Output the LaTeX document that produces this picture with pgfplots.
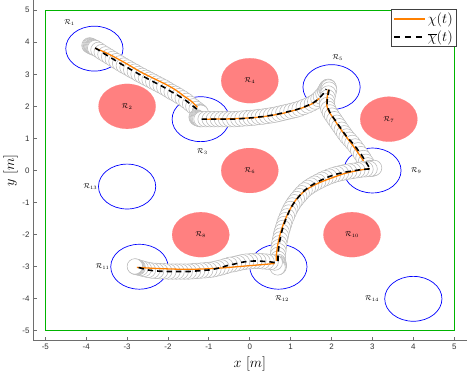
\documentclass[border=0pt]{standalone}
\usepackage[no-math]{fontspec}
\usepackage{pgfplots}
\usepackage{pgfplotstable}
\pgfplotsset{compat=1.18}
\newfontfamily\tickfont{Liberation Sans}
\definecolor{trajorange}{RGB}{255,128,0}
\definecolor{regred}{RGB}{255,128,128}
\definecolor{boundgreen}{RGB}{0,180,0}
\definecolor{axgray}{RGB}{110,110,110}

\pgfplotstableread{
x y
-3.0 2.0
0.0 2.8
0.0 0.0
3.4 1.6
-1.2 -2.0
2.5 -2.0
}\obstacles
\pgfplotstableread{
x y
-3.8 3.8
-1.2 1.6
2.0 2.6
3.0 0.0
-2.7 -3.0
0.7 -3.0
-3.0 -0.5
4.0 -4.0
}\targets

\pgfplotstableread{
x y
-3.78 3.82
-3.70 3.76
-3.62 3.69
-3.53 3.62
-3.44 3.55
-3.35 3.48
-3.26 3.41
-3.17 3.34
-3.08 3.27
-2.99 3.21
-2.90 3.14
-2.81 3.08
-2.72 3.01
-2.63 2.95
-2.54 2.89
-2.45 2.83
-2.36 2.77
-2.27 2.71
-2.18 2.65
-2.09 2.59
-2.00 2.52
-1.91 2.45
-1.82 2.39
-1.73 2.32
-1.64 2.25
-1.55 2.17
-1.46 2.08
-1.38 2.00
-1.30 1.92
-1.22 1.84
}\refA
\pgfplotstableread{
x y
-1.18 1.60
-1.08 1.60
-0.98 1.60
-0.88 1.60
-0.78 1.60
-0.68 1.60
-0.58 1.60
-0.48 1.60
-0.38 1.60
-0.28 1.61
-0.18 1.62
-0.08 1.63
0.02 1.64
0.12 1.65
0.22 1.67
0.32 1.68
0.42 1.70
0.52 1.72
0.62 1.74
0.72 1.77
0.82 1.80
0.92 1.83
1.02 1.86
1.12 1.89
1.22 1.93
1.32 1.98
1.42 2.03
1.52 2.09
1.60 2.15
1.68 2.23
1.74 2.31
1.80 2.40
1.84 2.48
1.87 2.54
}\refB
\pgfplotstableread{
x y
1.94 2.52
1.92 2.40
1.90 2.28
1.89 2.16
1.89 2.04
1.92 1.92
1.96 1.81
2.01 1.71
2.07 1.60
2.13 1.49
2.19 1.38
2.25 1.27
2.31 1.16
2.37 1.06
2.44 0.96
2.51 0.86
2.58 0.75
2.65 0.63
2.72 0.51
2.78 0.39
2.84 0.27
2.89 0.16
2.93 0.08
}\refC
\pgfplotstableread{
x y
2.93 0.05
2.83 0.04
2.73 0.03
2.63 0.01
2.53 -0.01
2.43 -0.03
2.33 -0.05
2.23 -0.08
2.13 -0.11
2.03 -0.15
1.94 -0.19
1.85 -0.24
1.76 -0.29
1.67 -0.35
1.58 -0.41
1.50 -0.47
1.42 -0.54
1.34 -0.62
1.27 -0.71
1.21 -0.80
1.15 -0.89
1.09 -0.99
1.04 -1.09
0.99 -1.20
0.95 -1.31
0.91 -1.43
0.87 -1.55
0.84 -1.67
0.81 -1.79
0.78 -1.91
0.76 -2.03
0.74 -2.15
0.72 -2.27
0.71 -2.39
0.70 -2.51
0.69 -2.63
0.69 -2.75
0.69 -2.85
}\refD
\pgfplotstableread{
x y
0.61 -2.87
0.51 -2.85
0.41 -2.84
0.31 -2.83
0.21 -2.82
0.11 -2.82
0.01 -2.83
-0.09 -2.84
-0.19 -2.86
-0.29 -2.89
-0.39 -2.92
-0.49 -2.94
-0.59 -2.98
-0.69 -3.02
-0.79 -3.05
-0.89 -3.08
-0.99 -3.10
-1.09 -3.11
-1.19 -3.12
-1.29 -3.13
-1.39 -3.14
-1.49 -3.15
-1.59 -3.15
-1.69 -3.15
-1.79 -3.15
-1.89 -3.15
-1.99 -3.15
-2.09 -3.14
-2.19 -3.14
-2.29 -3.13
-2.39 -3.12
-2.49 -3.10
-2.59 -3.07
-2.67 -3.04
-2.74 -3.02
}\refE

\begin{document}
\begin{tikzpicture}
\begin{axis}[
  scale only axis,
  width=436pt, height=342pt,
  xmin=-5.3, xmax=5.3, ymin=-5.3, ymax=5.3,
  clip marker paths=true,
  axis lines=left,
  axis line style={-, axgray, line width=1pt},
  xtick={-5,...,5}, ytick={-5,...,5},
  tick align=inside,
  major tick length=4pt,
  tick style={axgray, line width=0.8pt},
  tick label style={font=\tickfont\fontsize{8}{9}\selectfont, text=black!80},
  /pgf/number format/assume math mode=true,
  xlabel={$x\ [m]$}, ylabel={$y\ [m]$},
  every axis x label/.style={at={(ticklabel cs:0.5)}, anchor=near ticklabel},
  every axis y label/.style={at={(ticklabel cs:0.5)}, rotate=90, anchor=near ticklabel, yshift=-2pt},
  label style={font=\fontsize{14}{16}\selectfont},
  legend style={at={(0.977,0.975)}, anchor=north east, draw=black!75,
    line width=0.7pt, fill=white, font=\fontsize{15}{17}\selectfont,
    inner sep=1.5pt, row sep=2pt},
  legend cell align=left,
  legend image code/.code={\draw[#1] (0cm,0cm) -- (1.1cm,0cm);},
  tubemark/.style={only marks, mark=*, mark size=7.8pt, forget plot,
    mark options={draw=gray!55, fill=white, line width=0.55pt}},
  truepath/.style={color=trajorange, line width=1.3pt, smooth, no markers},
  refpath/.style={color=black, line width=1.6pt, dash pattern=on 5.5pt off 4pt, no markers},
]
\addlegendimage{color=trajorange, line width=1.4pt}
\addlegendentry{$\chi(t)$}
\addlegendimage{color=black, line width=1.7pt, dash pattern=on 6.5pt off 4.5pt}
\addlegendentry{$\overline{\chi}(t)$}

% workspace boundary
\addplot[draw=boundgreen, line width=1.2pt, no markers, forget plot] coordinates {(-5,-5) (5,-5) (5,5) (-5,5) (-5,-5)};

% regions
\addplot[only marks, mark=*, mark size=22.58pt, forget plot,
  mark options={xscale=1.2749, fill=regred, draw=regred, line width=0.1pt}] table {\obstacles};
\addplot[only marks, mark=o, mark size=22.58pt, forget plot,
  mark options={xscale=1.2749, draw=blue, line width=0.7pt}] table {\targets};

% tube around the reference trajectory
\addplot[tubemark] coordinates {(-3.92,3.90) (-3.90,3.89) (-3.88,3.88) (-3.86,3.86) (-3.84,3.85) (-3.82,3.84) (-3.80,3.83)};
\addplot[tubemark] table {\refA};
\addplot[tubemark] coordinates {(-1.21,1.82) (-1.20,1.80)};
\addplot[tubemark] coordinates {(-1.30,1.66) (-1.29,1.64) (-1.27,1.63) (-1.25,1.62) (-1.23,1.61) (-1.21,1.60)};
\addplot[tubemark] table {\refB};
\addplot[tubemark] coordinates {(1.88,2.57) (1.90,2.60) (1.92,2.61) (1.93,2.59)};
\addplot[tubemark] table {\refC};
\addplot[tubemark] coordinates {(2.96,0.07) (2.98,0.06) (3.00,0.06) (3.02,0.07) (3.04,0.08)};
\addplot[tubemark] table {\refD};
\addplot[tubemark] coordinates {(0.70,-2.90) (0.71,-2.94) (0.71,-2.98) (0.70,-3.01) (0.68,-3.02)};
\addplot[tubemark] table {\refE};
\addplot[tubemark] coordinates {(-2.76,-3.01) (-2.78,-3.00) (-2.80,-3.00) (-2.81,-2.99)};

% actual trajectory
\addplot[truepath, forget plot] coordinates {(-3.78,3.81) (-3.55,3.69) (-3.33,3.55) (-3.0,3.32) (-2.68,3.08) (-2.35,2.87) (-2.03,2.67) (-1.80,2.50) (-1.60,2.31) (-1.43,2.16) (-1.28,1.97)};
\addplot[truepath, forget plot] coordinates {(-1.15,1.60) (-0.5,1.61) (0.2,1.66) (0.8,1.78) (1.3,1.96) (1.55,2.10) (1.70,2.25)};
\addplot[truepath, forget plot] coordinates {(1.92,2.52) (1.89,2.25) (1.88,2.05) (1.93,1.85) (2.05,1.62) (2.20,1.33) (2.36,1.05) (2.52,0.78) (2.66,0.53) (2.78,0.30)};
\addplot[truepath, forget plot] coordinates {(2.93,0.06) (2.60,-0.01) (2.30,-0.10) (2.03,-0.22) (1.70,-0.38) (1.38,-0.60) (1.15,-0.88) (0.98,-1.22) (0.85,-1.58) (0.75,-1.95) (0.68,-2.35) (0.65,-2.66) (0.65,-2.82)};
\addplot[truepath, forget plot] coordinates {(0.61,-2.90) (0.24,-2.94) (-0.32,-3.00) (-0.70,-3.04) (-1.14,-3.07) (-1.55,-3.08) (-1.95,-3.07) (-2.35,-3.05) (-2.76,-3.02)};

% reference trajectory
\addplot[refpath, forget plot] table {\refA};
\addplot[refpath, forget plot] table {\refB};
\addplot[refpath, forget plot] table {\refC};
\addplot[refpath, forget plot] table {\refD};
\addplot[refpath, forget plot] table {\refE};

% region labels
\addplot[only marks, mark=none, forget plot, nodes near coords, point meta=explicit symbolic,
  every node near coord/.style={anchor=center, inner sep=0pt, black, font=\fontsize{7.5}{8}\selectfont}]
  coordinates {
    (-4.41,4.60) [$\mathcal{R}_{1}$]
    (-3.0,2.0) [$\mathcal{R}_{2}$]
    (-1.16,0.58) [$\mathcal{R}_{3}$]
    (0.0,2.8) [$\mathcal{R}_{4}$]
    (2.15,3.53) [$\mathcal{R}_{5}$]
    (0.0,0.0) [$\mathcal{R}_{6}$]
    (3.4,1.6) [$\mathcal{R}_{7}$]
    (-1.2,-2.0) [$\mathcal{R}_{8}$]
    (4.07,0.0) [$\mathcal{R}_{9}$]
    (2.5,-2.0) [$\mathcal{R}_{10}$]
    (-3.6,-3.0) [$\mathcal{R}_{11}$]
    (0.79,-4.0) [$\mathcal{R}_{12}$]
    (-3.9,-0.49) [$\mathcal{R}_{13}$]
    (2.99,-4.0) [$\mathcal{R}_{14}$]
  };
\end{axis}
\end{tikzpicture}
\end{document}
